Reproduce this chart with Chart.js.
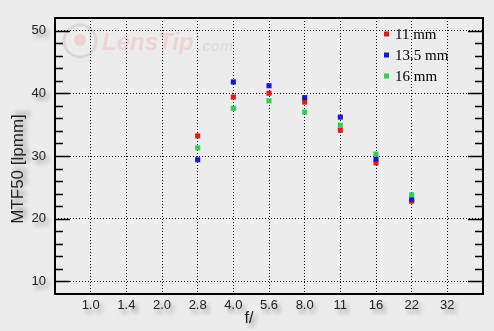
<!DOCTYPE html>
<html>
<head>
<meta charset="utf-8">
<title>MTF50</title>
<script src="https://cdn.jsdelivr.net/npm/chart.js@4.4.0/dist/chart.umd.min.js"></script>
<style>
    html, body { margin: 0; padding: 0; background: #ececec; }
    #wrap { width: 494px; height: 331px; }
</style>
</head>
<body>
<div id="wrap"><canvas id="mtf" width="494" height="331"></canvas></div>
<script>
// f-stops shown on the x axis
const fStops = ["1.0", "1.4", "2.0", "2.8", "4.0", "5.6", "8.0", "11", "16", "22", "32"];

// MTF50 [lpmm] per focal length, null where there is no measurement
const mtf11mm = [null, null, null, 33.2, 39.4, 40.0, 38.6, 34.1, 28.9, 22.8, null];
const mtf135mm = [null, null, null, 29.4, 41.8, 41.2, 39.3, 36.2, 29.5, 23.1, null];
const mtf16mm = [null, null, null, 31.3, 37.6, 38.8, 37.0, 34.9, 30.3, 23.8, null];

// y axis labels
const yTicks = [10, 20, 30, 40, 50];

const seriesNames = ["11 mm", "13.5 mm", "16 mm"];
const seriesColors = ["#e21a1a", "#1818c8", "#33cc55"];

/**
 * Turn one list of readings into scatter points on the f-stop index
 */
function toPoints(values) {
    return values
        .map((v, i) => ({ x: i, y: v }))
        .filter((p) => p.y !== null);
}

const sansFont = "'Liberation Sans', Arial, sans-serif";
const serifFont = "'Liberation Serif', 'Times New Roman', serif";

/**
 * Blurred grey shadow under a piece of text, like the original picture
 */
function shadowText(ctx, text, x, y) {
    ctx.save();
    ctx.filter = "blur(2px)";
    ctx.fillStyle = "rgba(0, 0, 0, 0.38)";
    ctx.fillText(text, x + 3, y + 4);
    ctx.restore();
}

// background, watermark, label shadows and axis titles
const backdropPlugin = {
    id: "backdrop",
    beforeDraw(chart) {
        const ctx = chart.ctx;
        const area = chart.chartArea;
        ctx.save();
        ctx.fillStyle = "#ececec";
        ctx.fillRect(0, 0, chart.width, chart.height);

        // faint LensTip watermark
        ctx.strokeStyle = "#d9d9d9";
        ctx.lineWidth = 3;
        ctx.beginPath();
        ctx.arc(area.left + 25, area.top + 23, 16, 0, Math.PI * 2);
        ctx.stroke();
        ctx.fillStyle = "#ecd2d2";
        ctx.beginPath();
        ctx.arc(area.left + 25, area.top + 22, 6, 0, Math.PI * 2);
        ctx.fill();
        ctx.textBaseline = "middle";
        ctx.font = "italic bold 24px " + sansFont;
        ctx.fillStyle = "#ecd4d4";
        ctx.fillText("LensTip", area.left + 47, area.top + 25);
        ctx.font = "italic bold 15px " + sansFont;
        ctx.fillStyle = "#dedede";
        ctx.fillText(".com", area.left + 143, area.top + 29);

        // shadows behind the tick labels
        const x = chart.scales.x;
        const y = chart.scales.y;
        ctx.font = "13px " + sansFont;
        ctx.textBaseline = "middle";
        ctx.textAlign = "right";
        yTicks.forEach((v) => {
            shadowText(ctx, String(v), area.left - 9, y.getPixelForValue(v));
        });
        ctx.textAlign = "center";
        fStops.forEach((f, i) => {
            shadowText(ctx, f, x.getPixelForValue(i), area.bottom + 11);
        });

        // axis titles
        ctx.font = "16px " + sansFont;
        ctx.textAlign = "center";
        shadowText(ctx, "f/", 249, 319);
        ctx.fillStyle = "#222";
        ctx.fillText("f/", 249, 319);

        ctx.save();
        ctx.translate(18, 169);
        ctx.rotate(-Math.PI / 2);
        ctx.font = "17px " + sansFont;
        shadowText(ctx, "MTF50 [lpmm]", 0, 0);
        ctx.fillStyle = "#222";
        ctx.fillText("MTF50 [lpmm]", 0, 0);
        ctx.restore();

        ctx.restore();
    },
    afterDraw(chart) {
        const ctx = chart.ctx;
        const area = chart.chartArea;
        const y = chart.scales.y;
        ctx.save();

        // inner ticks on left and right borders, long at labelled values
        ctx.strokeStyle = "#000";
        ctx.lineWidth = 1.5;
        for (let v = Math.ceil(y.min); v <= y.max; v += 2) {
            if (v <= y.min || v >= y.max) continue;
            const py = Math.round(y.getPixelForValue(v)) + 0.5;
            const len = yTicks.includes(v) ? 15 : 8;
            ctx.beginPath();
            ctx.moveTo(area.left, py);
            ctx.lineTo(area.left + len, py);
            ctx.moveTo(area.right, py);
            ctx.lineTo(area.right - len, py);
            ctx.stroke();
        }

        // frame
        ctx.lineWidth = 2;
        ctx.strokeRect(area.left, area.top, area.right - area.left, area.bottom - area.top);

        // legend in the top right corner
        ctx.font = "15px " + serifFont;
        ctx.textBaseline = "middle";
        ctx.textAlign = "left";
        const rows = [34, 55, 76];
        chart.data.datasets.forEach((ds, i) => {
            ctx.fillStyle = ds.pointBackgroundColor;
            ctx.fillRect(384, rows[i] - 2.5, 5, 5);
            ctx.fillStyle = "#000";
            ctx.fillText(ds.label, 395, rows[i] + 1);
        });
        ctx.restore();
    },
};

const allSeries = [mtf11mm, mtf135mm, mtf16mm];

new Chart(document.getElementById("mtf"), {
    type: "scatter",
    data: {
        datasets: allSeries.map((values, i) => ({
            label: seriesNames[i],
            data: toPoints(values),
            pointStyle: "rect",
            pointRadius: 3.6,
            pointHoverRadius: 3.6,
            pointBorderWidth: 0,
            pointBackgroundColor: seriesColors[i],
            // later series drawn on top
            order: allSeries.length - i,
        })),
    },
    options: {
        responsive: false,
        animation: false,
        layout: {
            padding: { top: 18, right: 11, left: 0, bottom: 0 },
        },
        plugins: {
            legend: { display: false },
            tooltip: { enabled: false },
        },
        scales: {
            x: {
                type: "linear",
                min: -1,
                max: 11,
                afterBuildTicks: (scale) => {
                    scale.ticks = fStops.map((f, i) => ({ value: i }));
                },
                afterFit: (scale) => {
                    scale.height = 37;
                },
                ticks: {
                    callback: (value) => fStops[value],
                    font: { family: sansFont, size: 13 },
                    color: "#222",
                    padding: 4,
                    autoSkip: false,
                    maxRotation: 0,
                },
                grid: {
                    color: "#000",
                    lineWidth: 1,
                    drawTicks: false,
                },
                border: { display: false, dash: [1, 2] },
            },
            y: {
                min: 8,
                max: 52,
                afterBuildTicks: (scale) => {
                    scale.ticks = yTicks.map((v) => ({ value: v }));
                },
                afterFit: (scale) => {
                    scale.width = 55;
                },
                ticks: {
                    font: { family: sansFont, size: 13 },
                    color: "#222",
                    padding: 9,
                },
                grid: {
                    color: "#000",
                    lineWidth: 1,
                    drawTicks: false,
                },
                border: { display: false, dash: [1, 2] },
            },
        },
    },
    plugins: [backdropPlugin],
});
</script>
</body>
</html>
